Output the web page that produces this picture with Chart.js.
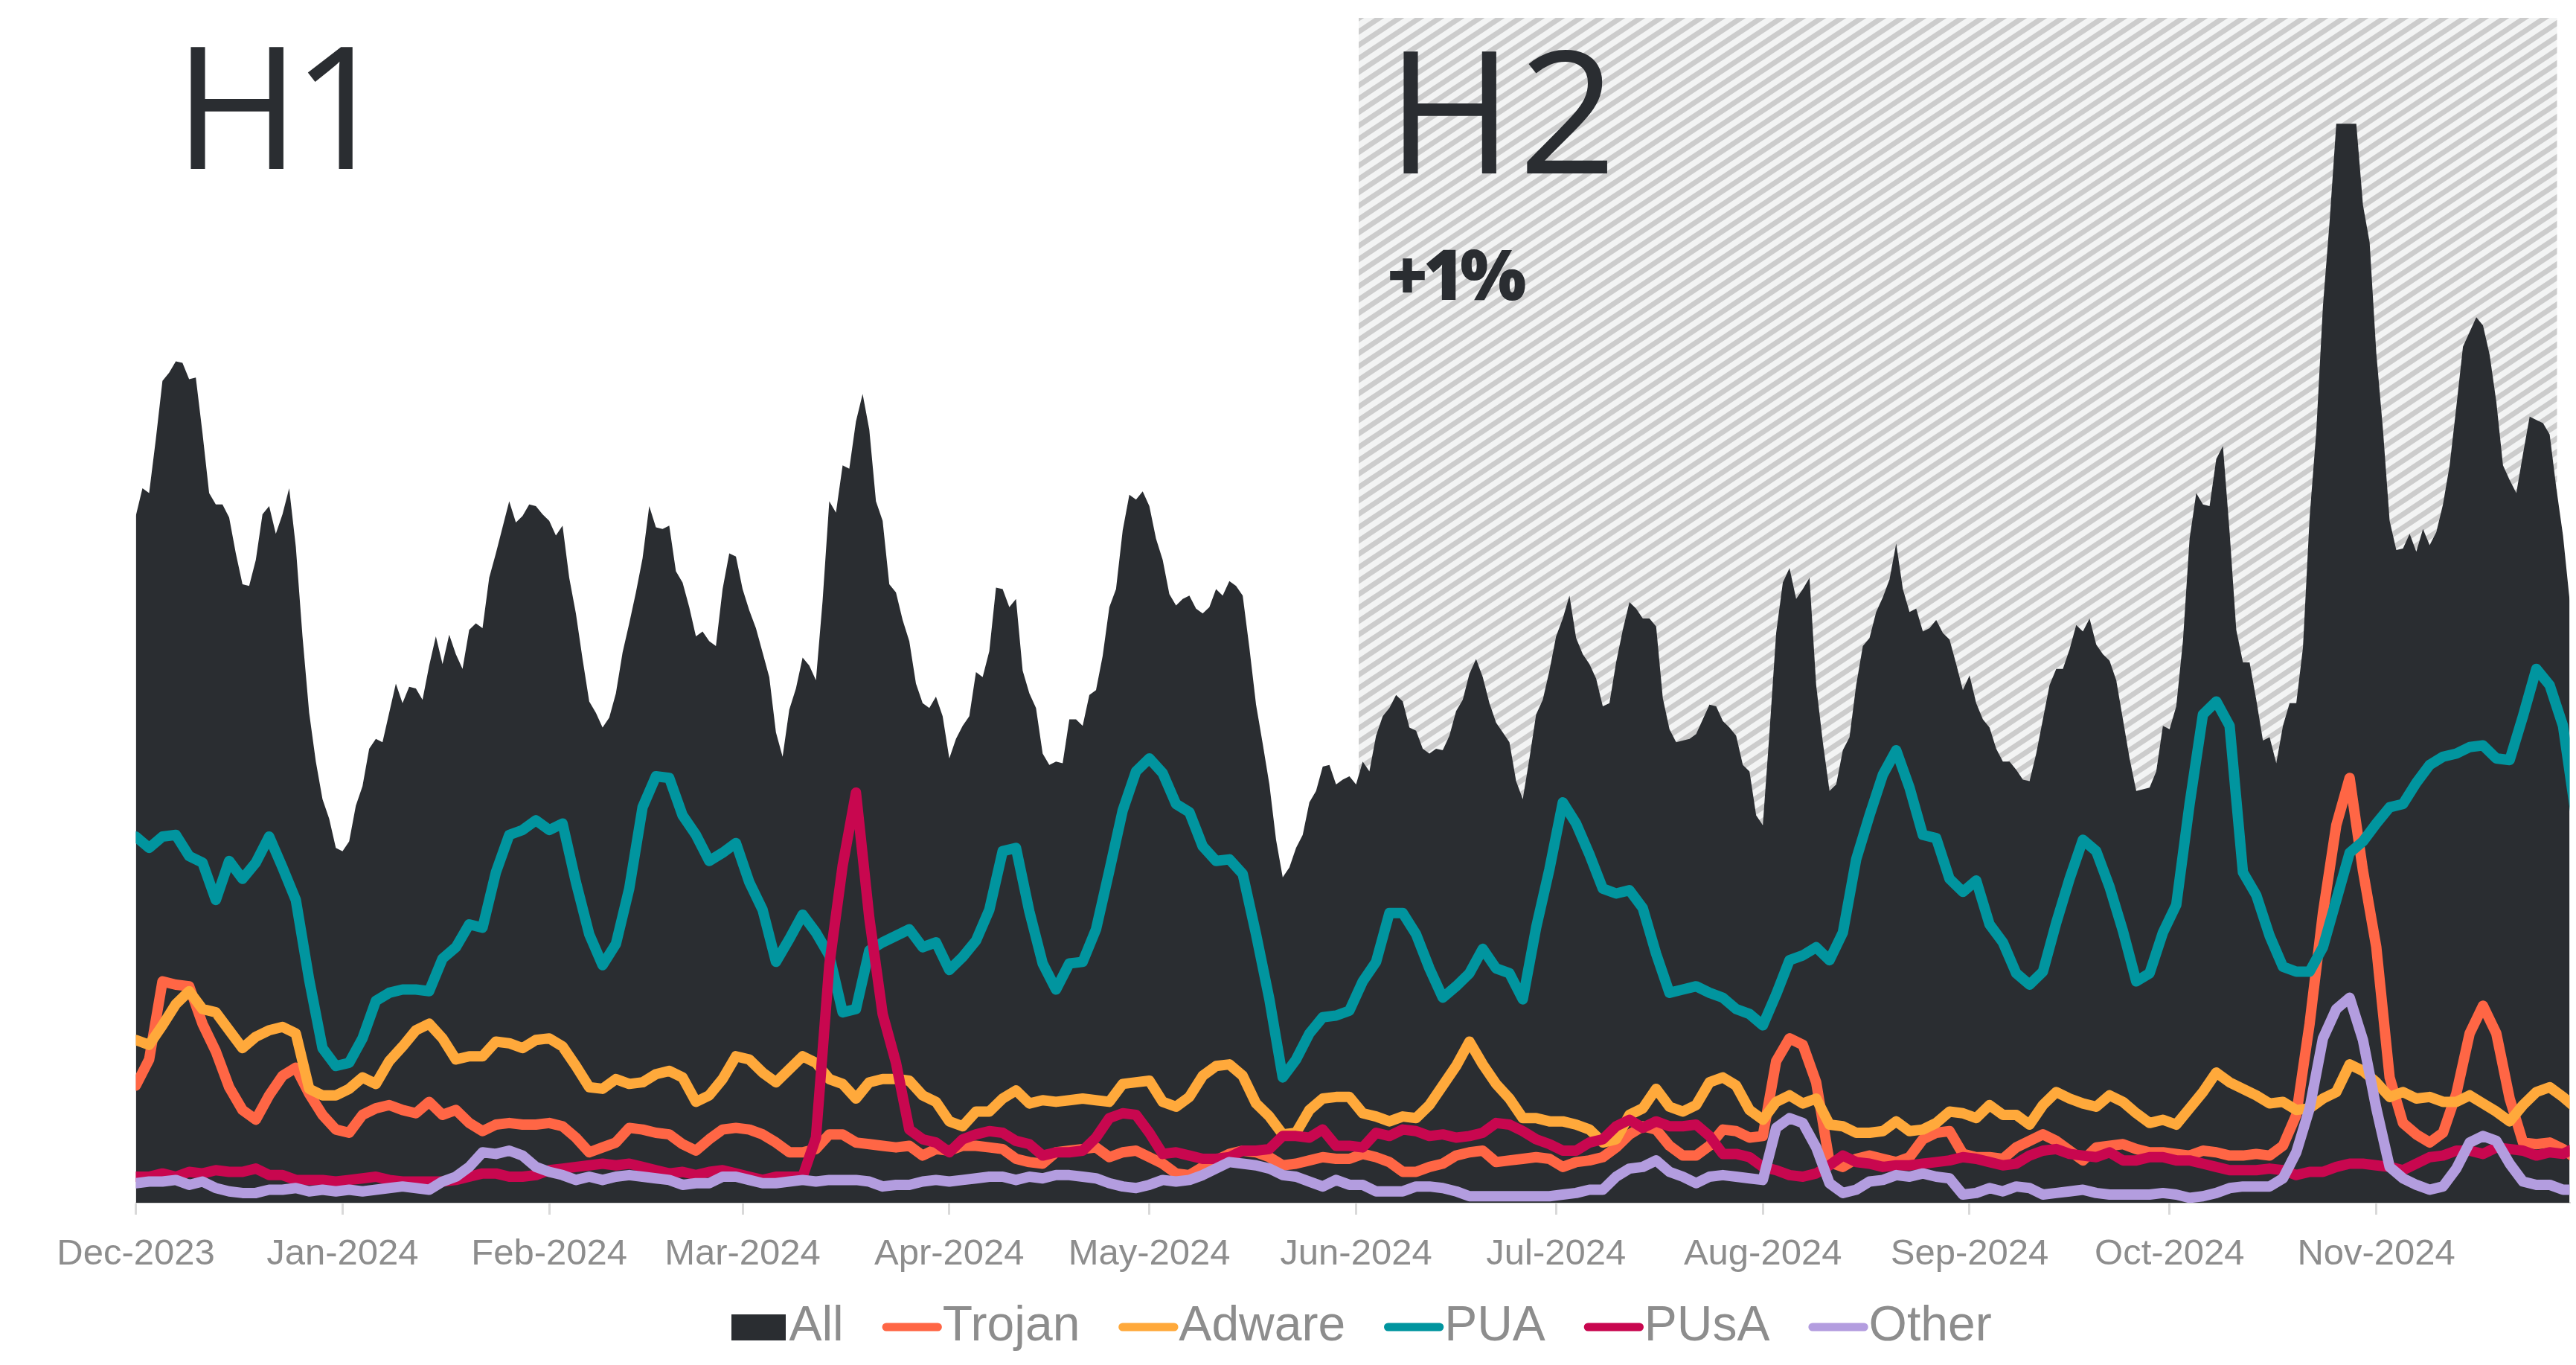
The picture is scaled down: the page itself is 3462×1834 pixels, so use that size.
<!DOCTYPE html>
<html lang="en">
<head>
<meta charset="utf-8">
<title>Detections by category, Dec 2023 – Nov 2024</title>
<script src="https://cdn.jsdelivr.net/npm/chart.js@4.4.1/dist/chart.umd.min.js"></script>
<style>
  html, body { margin: 0; padding: 0; background: #ffffff; }
  #chart { display: block; }
</style>
</head>
<body>
<canvas id="chart" width="3462" height="1834"></canvas>
<script>
// Total detections, one value per day starting 1 Dec 2023
const allDaily = [
  422, 439, 436, 469, 505, 510, 517, 516, 506, 507,
  473, 436, 429, 429, 421, 399, 380, 379, 395, 423,
  428, 411, 423, 439, 403, 348, 301, 271, 248, 236,
  218, 216, 222, 244, 256, 279, 285, 283, 301, 319,
  307, 317, 316, 309, 330, 348, 331, 349, 337, 328,
  352, 356, 353, 384, 399, 415, 431, 418, 422, 429,
  428, 423, 419, 410, 416, 384, 362, 334, 308, 301,
  292, 298, 313, 338, 356, 375, 396, 428, 415, 414,
  416, 388, 381, 366, 348, 351, 345, 342, 377, 399,
  397, 377, 364, 353, 338, 323, 289, 274, 303, 316,
  335, 330, 321, 370, 431, 424, 453, 451, 480, 497,
  475, 431, 419, 380, 375, 358, 345, 319, 307, 304,
  311, 299, 273, 285, 293, 299, 326, 323, 339, 378,
  377, 366, 371, 327, 313, 304, 276, 269, 271, 270,
  297, 297, 293, 312, 315, 336, 366, 377, 413, 435,
  432, 437, 428, 408, 395, 374, 367, 371, 373, 365,
  362, 366, 377, 373, 382, 379, 373, 341, 306, 282,
  257, 223, 200, 206, 218, 226, 246, 253, 268, 269,
  257, 260, 262, 257, 271, 265, 287, 299, 304, 312,
  308, 292, 290, 279, 276, 279, 278, 287, 302, 309,
  325, 334, 323, 307, 295, 289, 283, 259, 248, 273,
  300, 309, 327, 348, 359, 373, 347, 337, 331, 322,
  305, 307, 332, 352, 369, 365, 359, 359, 354, 310,
  291, 283, 284, 285, 288, 297, 306, 305, 296, 292,
  287, 269, 265, 238, 232, 289, 350, 381, 390, 371,
  377, 384, 318, 283, 253, 257, 278, 286, 318, 342,
  347, 363, 372, 383, 405, 377, 363, 365, 351, 353,
  358, 350, 346, 331, 315, 324, 307, 297, 292, 279,
  271, 271, 266, 260, 259, 276, 297, 318, 328, 328,
  340, 355, 351, 359, 343, 337, 333, 321, 297, 273,
  253, 254, 255, 265, 293, 291, 305, 345, 408, 436,
  429, 428, 457, 465, 412, 352, 332, 332, 309, 284,
  286, 270, 293, 307, 307, 341, 421, 474, 551, 603,
  663, 663, 663, 663, 613, 590, 522, 475, 419, 401,
  402, 411, 400, 414, 404, 412, 429, 453, 489, 526,
  535, 544, 539, 521, 492, 453, 444, 436, 460, 483,
  481, 479, 472, 439, 410, 370
];

// Category series, one value every second day starting 1 Dec 2023
const seriesStep = 2;

const trojan = [
  72, 88, 136, 134, 133, 110, 93, 71, 57, 51,
  66, 78, 83, 67, 54, 45, 43, 54, 58, 60,
  57, 55, 62, 54, 57, 49, 44, 48, 49, 48,
  48, 49, 47, 40, 31, 34, 37, 46, 45, 43,
  42, 36, 32, 39, 45, 46, 45, 42, 37, 31,
  31, 33, 42, 42, 37, 36, 35, 34, 35, 29,
  33, 32, 35, 35, 34, 33, 27, 25, 24, 31,
  32, 33, 34, 28, 31, 32, 28, 24, 18, 17,
  22, 26, 30, 32, 31, 28, 23, 24, 26, 28,
  27, 27, 30, 28, 25, 19, 19, 22, 24, 29,
  31, 32, 25, 26, 27, 28, 27, 22, 25, 26,
  28, 34, 42, 47, 45, 35, 29, 29, 35, 45,
  44, 40, 41, 87, 101, 97, 74, 25, 22, 27,
  29, 27, 25, 28, 39, 43, 44, 30, 28, 28,
  27, 34, 38, 42, 38, 32, 26, 34, 35, 36,
  33, 31, 31, 30, 29, 32, 31, 29, 29, 30,
  29, 35, 54, 110, 178, 232, 261, 204, 157, 77,
  49, 42, 37, 43, 67, 104, 121, 104, 64, 37,
  36, 37, 33, 27
];

const adware = [
  100, 97, 109, 122, 130, 119, 117, 106, 95, 102,
  106, 108, 104, 70, 66, 66, 70, 77, 73, 87,
  96, 106, 110, 101, 88, 90, 90, 99, 98, 95,
  100, 101, 96, 84, 71, 70, 76, 73, 74, 79,
  81, 77, 62, 66, 76, 90, 88, 80, 74, 82,
  90, 86, 76, 73, 64, 74, 76, 76, 75, 66,
  62, 50, 47, 56, 56, 64, 69, 61, 63, 62,
  63, 64, 63, 62, 73, 74, 75, 62, 59, 65,
  78, 84, 85, 78, 61, 53, 42, 43, 57, 64,
  65, 65, 55, 53, 50, 53, 52, 60, 72, 84,
  99, 85, 73, 64, 52, 52, 50, 50, 48, 45,
  37, 39, 54, 58, 70, 59, 56, 60, 74, 77,
  72, 57, 51, 62, 66, 61, 64, 48, 47, 43,
  43, 44, 50, 44, 45, 49, 56, 55, 52, 60,
  54, 54, 48, 60, 68, 64, 61, 59, 66, 62,
  55, 49, 51, 48, 58, 68, 80, 74, 70, 66,
  61, 62, 57, 58, 64, 68, 85, 81, 74, 65,
  68, 64, 65, 62, 62, 66, 61, 56, 50, 60,
  68, 71, 65, 58
];

const pua = [
  225, 218, 225, 226, 213, 209, 186, 210, 199, 209,
  225, 206, 186, 137, 95, 84, 86, 101, 124, 129,
  131, 131, 130, 150, 157, 171, 169, 203, 226, 229,
  235, 229, 233, 197, 165, 146, 159, 193, 243, 262,
  261, 238, 226, 210, 215, 221, 197, 180, 148, 162,
  177, 166, 152, 117, 119, 155, 160, 164, 168, 157,
  160, 143, 151, 161, 180, 216, 218, 179, 147, 131,
  147, 148, 168, 204, 241, 265, 273, 264, 245, 240,
  219, 210, 211, 202, 165, 125, 77, 88, 104, 114,
  115, 118, 136, 148, 178, 178, 165, 144, 126, 133,
  141, 156, 144, 141, 125, 169, 205, 246, 233, 214,
  193, 190, 192, 181, 153, 129, 131, 133, 129, 126,
  119, 116, 109, 128, 149, 152, 157, 149, 166, 211,
  238, 263, 278, 255, 226, 224, 199, 191, 198, 171,
  160, 141, 134, 142, 172, 199, 223, 216, 194, 167,
  136, 141, 166, 183, 245, 300, 308, 293, 203, 189,
  164, 145, 142, 142, 157, 186, 215, 222, 233, 243,
  245, 258, 269, 274, 276, 280, 281, 273, 272, 299,
  328, 318, 293, 236
];

const pusa = [
  16, 16, 18, 16, 19, 18, 20, 19, 19, 21,
  17, 17, 14, 14, 14, 13, 14, 15, 16, 14,
  13, 13, 13, 13, 14, 16, 18, 18, 16, 16,
  17, 20, 21, 22, 23, 24, 23, 24, 22, 20,
  18, 19, 17, 19, 20, 18, 16, 14, 16, 16,
  16, 40, 146, 207, 252, 175, 116, 86, 45, 39,
  37, 31, 39, 42, 44, 43, 38, 36, 29, 31,
  31, 32, 40, 52, 55, 54, 43, 30, 31, 29,
  27, 27, 28, 32, 32, 33, 41, 41, 40, 45,
  35, 35, 34, 43, 41, 45, 44, 41, 42, 40,
  41, 43, 49, 48, 44, 39, 36, 32, 32, 37,
  39, 47, 51, 46, 50, 47, 47, 48, 41, 30,
  30, 28, 22, 20, 17, 16, 18, 23, 29, 25,
  24, 22, 23, 23, 24, 25, 26, 28, 27, 25,
  23, 24, 29, 32, 33, 30, 29, 28, 31, 26,
  26, 28, 28, 26, 26, 24, 22, 20, 20, 20,
  21, 20, 17, 19, 19, 22, 24, 24, 23, 22,
  20, 24, 28, 29, 32, 32, 30, 34, 33, 32,
  29, 31, 30, 34
];

const other = [
  12, 13, 13, 14, 11, 13, 9, 7, 6, 6,
  8, 8, 9, 7, 8, 7, 8, 7, 8, 9,
  10, 9, 8, 13, 16, 22, 31, 30, 32, 29,
  22, 19, 17, 14, 16, 14, 16, 17, 16, 15,
  14, 11, 12, 12, 16, 16, 14, 12, 12, 13,
  14, 13, 14, 14, 14, 13, 10, 11, 11, 13,
  14, 13, 14, 15, 16, 16, 14, 16, 15, 17,
  17, 16, 15, 12, 10, 9, 11, 14, 13, 14,
  17, 21, 25, 24, 23, 21, 17, 16, 13, 10,
  14, 11, 11, 7, 7, 7, 10, 10, 9, 7,
  4, 4, 4, 4, 4, 4, 4, 5, 6, 8,
  8, 16, 21, 22, 26, 19, 16, 12, 16, 17,
  16, 15, 14, 46, 52, 49, 34, 12, 6, 8,
  13, 14, 17, 16, 18, 16, 15, 5, 6, 9,
  7, 10, 9, 5, 6, 7, 8, 6, 5, 5,
  5, 5, 6, 5, 3, 4, 6, 9, 10, 10,
  10, 15, 31, 58, 101, 119, 126, 100, 58, 22,
  15, 11, 8, 10, 21, 37, 41, 38, 24, 13,
  11, 11, 8, 8
];

// Axis: day offsets of each month start and their labels
const monthStarts = [0, 31, 62, 91, 122, 152, 183, 213, 244, 275, 305, 336];
const monthLabels = ['Dec-2023', 'Jan-2024', 'Feb-2024', 'Mar-2024', 'Apr-2024', 'May-2024',
  'Jun-2024', 'Jul-2024', 'Aug-2024', 'Sep-2024', 'Oct-2024', 'Nov-2024'];
const lastDay = 365;
const yTop = 728;

// Shaded second half of the year (day offsets)
const secondHalfStart = 183.4;
const secondHalfEnd = 363.1;

const dark = '#2a2d31';
const labelGrey = '#8d8d8d';
const textFont = "'Liberation Sans', Arial, sans-serif";
const headFont = "'Open Sans', sans-serif";

function toPoints(values, step) {
  return values.map((v, i) => ({ x: i * step, y: v }));
}

// Diagonal light grey stripes for the H2 panel
function makeHatch(ctx) {
  const tile = document.createElement('canvas');
  tile.width = 27;
  tile.height = 18;
  const t = tile.getContext('2d');
  t.fillStyle = '#f3f4f4';
  t.fillRect(0, 0, 27, 18);
  t.strokeStyle = '#cccccc';
  t.lineWidth = 7;
  for (let c = -18; c <= 54; c += 18) {
    t.beginPath();
    t.moveTo(-27, c + 18);
    t.lineTo(54, c - 36);
    t.stroke();
  }
  return ctx.createPattern(tile, 'repeat');
}

const hatchPlugin = {
  id: 'hatch',
  beforeDatasetsDraw(chart) {
    const { ctx, chartArea, scales } = chart;
    const left = scales.x.getPixelForValue(secondHalfStart);
    const right = scales.x.getPixelForValue(secondHalfEnd);
    ctx.save();
    ctx.fillStyle = makeHatch(ctx);
    ctx.fillRect(left, chartArea.top, right - left, chartArea.bottom - chartArea.top);
    ctx.restore();
  }
};

// Draws text so that its ink runs from inkLeft to inkRight
function drawFitted(ctx, text, font, inkLeft, inkRight, baseline) {
  ctx.font = font;
  ctx.letterSpacing = '0px';
  const m = ctx.measureText(text);
  const inkWidth = m.actualBoundingBoxLeft + m.actualBoundingBoxRight;
  const gap = (inkRight - inkLeft - inkWidth) / (text.length - 1);
  ctx.letterSpacing = gap.toFixed(1) + 'px';
  ctx.fillText(text, inkLeft + m.actualBoundingBoxLeft, baseline);
}

// Draws text with a fixed letter spacing, starting at the left edge of its ink
function drawAt(ctx, text, font, spacing, inkLeft, baseline) {
  ctx.font = font;
  ctx.letterSpacing = spacing;
  const m = ctx.measureText(text);
  ctx.fillText(text, inkLeft + m.actualBoundingBoxLeft, baseline);
}

const headingsPlugin = {
  id: 'headings',
  beforeDatasetsDraw(chart) {
    const ctx = chart.ctx;
    ctx.save();
    ctx.fillStyle = dark;
    ctx.textAlign = 'left';
    ctx.textBaseline = 'alphabetic';
    drawFitted(ctx, 'H1', '500 230px ' + headFont, 256, 474, 227);
    drawFitted(ctx, 'H2', '500 230px ' + headFont, 1886, 2160, 233);
    drawAt(ctx, '+1%', '800 94px ' + headFont, '-6px', 1868, 403);
    ctx.restore();
  }
};

// Nudges the legend row so it sits centred under the plot like the axis labels
const legendShift = {
  id: 'legendShift',
  afterLayout(chart) {
    if (chart.legend) {
      chart.legend.left += 26;
      chart.legend.right += 26;
    }
  }
};

function buildChart() {
  const allSwatch = document.createElement('canvas');
  allSwatch.width = 73;
  allSwatch.height = 35;
  const sw = allSwatch.getContext('2d');
  sw.fillStyle = dark;
  sw.fillRect(0, 0, 73, 35);

  const lineSet = (label, values, color, order) => ({
    label,
    data: toPoints(values, seriesStep),
    borderColor: color,
    backgroundColor: color,
    borderWidth: 14,
    borderJoinStyle: 'round',
    borderCapStyle: 'round',
    pointRadius: 0,
    fill: false,
    order
  });

  new Chart(document.getElementById('chart'), {
    type: 'line',
    data: {
      datasets: [
        {
          label: 'All',
          data: toPoints(allDaily, 1),
          backgroundColor: dark,
          borderColor: dark,
          borderWidth: 0,
          pointRadius: 0,
          fill: 'origin',
          order: 6
        },
        lineSet('Trojan', trojan, '#ff6645', 5),
        lineSet('Adware', adware, '#ffa93b', 4),
        lineSet('PUA', pua, '#01959f', 3),
        lineSet('PUsA', pusa, '#c8074f', 2),
        lineSet('Other', other, '#b39ddf', 1)
      ]
    },
    options: {
      responsive: false,
      devicePixelRatio: 1,
      animation: false,
      events: [],
      layout: {
        padding: { left: 182.5, right: 8.5, top: 24, bottom: 8 }
      },
      scales: {
        x: {
          type: 'linear',
          min: 0,
          max: lastDay,
          afterBuildTicks: (axis) => {
            axis.ticks = monthStarts.map(v => ({ value: v }));
          },
          afterFit: (axis) => {
            axis.height = 50;
          },
          ticks: {
            autoSkip: false,
            maxRotation: 0,
            minRotation: 0,
            // mirrored labels are not clipped to the short axis box
            mirror: true,
            padding: -99,
            color: labelGrey,
            font: { family: textFont, size: 49 },
            callback: (value, index) => monthLabels[index]
          },
          grid: {
            drawOnChartArea: false,
            drawTicks: true,
            tickLength: 16,
            color: '#d9d9d9',
            lineWidth: 3
          },
          border: { display: true, color: '#d9d9d9', width: 2 }
        },
        y: {
          display: false,
          min: 0,
          max: yTop
        }
      },
      plugins: {
        tooltip: { enabled: false },
        legend: {
          position: 'bottom',
          labels: {
            usePointStyle: true,
            boxWidth: 16,
            boxHeight: 49,
            padding: 84,
            color: labelGrey,
            font: { family: textFont, size: 66 },
            generateLabels: (chart) => chart.data.datasets.map((ds, i) => ({
              text: ds.label,
              datasetIndex: i,
              fillStyle: ds.backgroundColor,
              strokeStyle: ds.borderColor,
              lineWidth: ds.fill ? 0 : 11,
              lineCap: 'round',
              pointStyle: ds.fill ? allSwatch : 'line',
              fontColor: labelGrey,
              hidden: false
            }))
          }
        }
      }
    },
    plugins: [hatchPlugin, headingsPlugin, legendShift]
  });
}

Promise.all([
  document.fonts.load("500 230px 'Open Sans'"),
  document.fonts.load("800 94px 'Open Sans'"),
  document.fonts.load("66px 'Liberation Sans'")
]).catch(() => {}).then(buildChart);
</script>
</body>
</html>
